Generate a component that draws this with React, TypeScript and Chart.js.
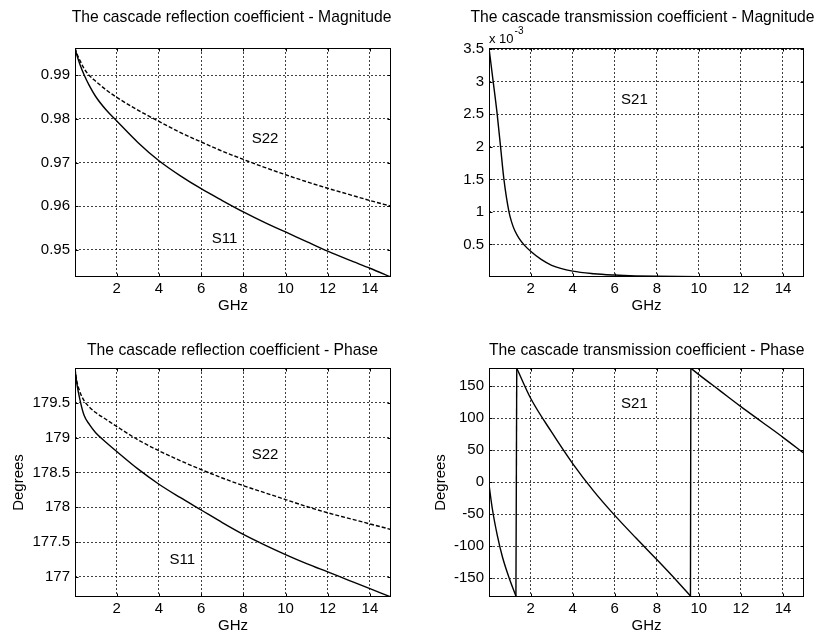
import React, { useEffect, useRef } from "react";
import { Chart, registerables } from "chart.js";

Chart.register(...registerables);

const FONT = '"Liberation Sans", Arial, Helvetica, sans-serif';

// ---------- data ----------
const reflFreq = [0.02, 0.1, 0.25, 0.45, 0.7, 1.0, 1.5, 2, 3, 4, 5, 6, 7, 8, 9, 10, 11, 12, 13, 14, 15];
const s11Mag = [0.9962, 0.9947, 0.9925, 0.9901, 0.9876, 0.9851, 0.982, 0.9795, 0.9746, 0.9704, 0.967, 0.964, 0.9613, 0.9587, 0.9563, 0.9541, 0.9519, 0.9497, 0.9477, 0.9458, 0.9438];
const s22Mag = [0.9962, 0.995, 0.9934, 0.9915, 0.9899, 0.9886, 0.9866, 0.9849, 0.982, 0.9794, 0.9769, 0.9747, 0.9726, 0.9707, 0.9689, 0.9672, 0.9656, 0.9641, 0.9627, 0.9613, 0.96];
const s11Phase = [179.99, 179.79, 179.55, 179.32, 179.19, 179.07, 178.93, 178.8, 178.55, 178.33, 178.14, 177.96, 177.78, 177.61, 177.46, 177.32, 177.19, 177.07, 176.95, 176.83, 176.71];
const s22Phase = [179.99, 179.82, 179.66, 179.53, 179.44, 179.36, 179.26, 179.16, 178.97, 178.81, 178.67, 178.54, 178.42, 178.31, 178.21, 178.11, 178.01, 177.92, 177.84, 177.76, 177.68];

const s21MagFreq = [0.02, 0.22, 0.41, 0.57, 0.73, 0.97, 1.1, 1.25, 1.45, 1.7, 2, 2.5, 3, 4, 5, 6, 7, 8, 10, 12, 15];
const s21Mag = [3.52e-3, 3.0e-3, 2.5e-3, 2.0e-3, 1.5e-3, 1.0e-3, 0.84e-3, 0.71e-3, 0.595e-3, 0.49e-3, 0.395e-3, 0.27e-3, 0.18e-3, 0.09e-3, 0.05e-3, 0.03e-3, 0.018e-3, 0.011e-3, 0.005e-3, 0.003e-3, 0.001e-3];

const s21PhaseFreq = [0.02, 0.18, 0.42, 0.66, 0.97, 1.3, 1.32, 1.34, 2, 3, 4, 5, 6, 7, 8, 9, 9.6, 9.62, 10, 11, 12, 13, 14, 15];
const s21Phase = [-4, -42, -84, -117, -149, -178, 0, 178, 131, 78, 29, -14, -52, -87, -121, -156, -178, 178, 168, 143, 118, 94, 70, 45];

const freqTicks = [2, 4, 6, 8, 10, 12, 14];
const reflMagTicks = [0.95, 0.96, 0.97, 0.98, 0.99];
const transMagTicks = [0.5e-3, 1e-3, 1.5e-3, 2e-3, 2.5e-3, 3e-3, 3.5e-3];
const reflPhaseTicks = [177, 177.5, 178, 178.5, 179, 179.5];
const transPhaseTicks = [-150, -100, -50, 0, 50, 100, 150];

const reflMagNotes = [
  { text: "S22", x: 8.4, y: 0.9754 },
  { text: "S11", x: 6.5, y: 0.9525 },
];
const transMagNotes = [{ text: "S21", x: 6.3, y: 2.72e-3 }];
const reflPhaseNotes = [
  { text: "S22", x: 8.4, y: 178.75 },
  { text: "S11", x: 4.5, y: 177.24 },
];
const transPhaseNotes = [{ text: "S21", x: 6.3, y: 123 }];

// ---------- panels ----------
type Series = { x: number[]; y: number[]; dashed?: boolean };
type PanelCfg = {
  left: number; top: number; w: number; h: number;
  area: { left: number; top: number; right: number; bottom: number };
  title: string; titleX: number; titleBase: number;
  yMin: number; yMax: number; yTicks: number[]; yFmt: (v: number) => string;
  yLabel?: string; yLabelPad?: number; xLabelPad: number;
  series: Series[]; notes: { text: string; x: number; y: number }[];
  multiplier?: boolean;
};

const panels: PanelCfg[] = [
  {
    left: 0, top: 0, w: 411, h: 318,
    area: { left: 75, top: 48, right: 391, bottom: 277 },
    title: "The cascade reflection coefficient - Magnitude", titleX: 231.5, titleBase: 21.5,
    yMin: 0.9438, yMax: 0.9962, yTicks: reflMagTicks, yFmt: (v) => String(v),
    xLabelPad: 3,
    series: [{ x: reflFreq, y: s11Mag }, { x: reflFreq, y: s22Mag, dashed: true }],
    notes: reflMagNotes,
  },
  {
    left: 411, top: 0, w: 412, h: 318,
    area: { left: 78, top: 48, right: 393, bottom: 277 },
    title: "The cascade transmission coefficient - Magnitude", titleX: 231.5, titleBase: 21.5,
    yMin: 0, yMax: 3.52e-3, yTicks: transMagTicks, yFmt: (v) => String(Math.round(v * 1e4) / 10),
    xLabelPad: 3,
    series: [{ x: s21MagFreq, y: s21Mag }],
    notes: transMagNotes,
    multiplier: true,
  },
  {
    left: 0, top: 318, w: 411, h: 319,
    area: { left: 75, top: 50, right: 391, bottom: 279 },
    title: "The cascade reflection coefficient - Phase", titleX: 232.5, titleBase: 37,
    yMin: 176.71, yMax: 180.0, yTicks: reflPhaseTicks, yFmt: (v) => String(v),
    yLabel: "Degrees", yLabelPad: 10, xLabelPad: 2,
    series: [{ x: reflFreq, y: s11Phase }, { x: reflFreq, y: s22Phase, dashed: true }],
    notes: reflPhaseNotes,
  },
  {
    left: 411, top: 318, w: 412, h: 319,
    area: { left: 78, top: 50, right: 393, bottom: 279 },
    title: "The cascade transmission coefficient - Phase", titleX: 235.7, titleBase: 37,
    yMin: -179.5, yMax: 178.3, yTicks: transPhaseTicks, yFmt: (v) => String(v),
    yLabel: "Degrees", yLabelPad: 21, xLabelPad: 2,
    series: [{ x: s21PhaseFreq, y: s21Phase }],
    notes: transPhaseNotes,
  },
];

// split a series at phase wraps so smooth runs and straight jumps are drawn separately
function buildDatasets(s: Series) {
  const runs: { x: number; y: number }[][] = [];
  let cur: { x: number; y: number }[] = [{ x: s.x[0], y: s.y[0] }];
  for (let i = 1; i < s.x.length; i++) {
    const p = { x: s.x[i], y: s.y[i] };
    if (Math.abs(s.y[i] - s.y[i - 1]) > 150) {
      if (cur.length) runs.push(cur);
      runs.push([{ x: s.x[i - 1], y: s.y[i - 1] }, p]);
      cur = [p];
    } else {
      cur.push(p);
    }
  }
  if (cur.length > 1) runs.push(cur);
  return runs
    .filter((r) => r.length > 1)
    .map((r) => ({
      data: r,
      borderColor: "#000",
      borderWidth: 1.4,
      borderDash: s.dashed ? [4, 2] : [],
      pointRadius: 0,
      fill: false,
      cubicInterpolationMode: "monotone" as const,
    }));
}

function Panel({ cfg }: { cfg: PanelCfg }) {
  const ref = useRef<HTMLCanvasElement | null>(null);
  useEffect(() => {
    if (!ref.current) return;
    const a = cfg.area;
    const framePlugin = {
      id: "frame",
      afterDatasetsDraw(chart: any) {
        const { ctx, chartArea: ca, scales } = chart;
        ctx.save();
        ctx.setLineDash([]);
        ctx.strokeStyle = "#000";
        ctx.lineWidth = 1;
        const L = Math.round(ca.left) + 0.5;
        const T = Math.round(ca.top) + 0.5;
        const R = Math.round(ca.right) - 0.5;
        const B = Math.round(ca.bottom) - 0.5;
        const tl = 3;
        ctx.beginPath();
        freqTicks.forEach((v) => {
          const px = Math.round(scales.x.getPixelForValue(v)) + 0.5;
          ctx.moveTo(px, B); ctx.lineTo(px, B - tl);
          ctx.moveTo(px, T); ctx.lineTo(px, T + tl);
        });
        cfg.yTicks.forEach((v) => {
          const py = Math.round(scales.y.getPixelForValue(v)) + 0.5;
          ctx.moveTo(L, py); ctx.lineTo(L + tl, py);
          ctx.moveTo(R, py); ctx.lineTo(R - tl, py);
        });
        ctx.stroke();
        ctx.strokeRect(L, T, R - L, B - T);
        ctx.fillStyle = "#000";
        ctx.font = `15px ${FONT}`;
        ctx.textAlign = "left";
        ctx.textBaseline = "middle";
        cfg.notes.forEach((n) => {
          ctx.fillText(n.text, scales.x.getPixelForValue(n.x), scales.y.getPixelForValue(n.y));
        });
        ctx.font = `15.7px ${FONT}`;
        ctx.textAlign = "center";
        ctx.textBaseline = "alphabetic";
        ctx.fillText(cfg.title, cfg.titleX, cfg.titleBase);
        if (cfg.multiplier) {
          ctx.textAlign = "left";
          ctx.font = `13px ${FONT}`;
          const base = "x 10";
          ctx.fillText(base, ca.left, 43);
          const w = ctx.measureText(base).width;
          ctx.font = `10px ${FONT}`;
          ctx.fillText("-3", ca.left + w + 1, 34);
        }
        ctx.restore();
      },
    };
    const tickFont = { size: 15, family: FONT };
    const chart = new Chart(ref.current, {
      type: "line",
      data: { datasets: cfg.series.flatMap((s) => buildDatasets(s)) },
      options: {
        animation: false,
        responsive: false,
        devicePixelRatio: 1,
        events: [],
        layout: { padding: { left: 0, top: a.top, right: cfg.w - a.right, bottom: 0 } },
        plugins: { legend: { display: false }, tooltip: { enabled: false }, title: { display: false } },
        scales: {
          x: {
            type: "linear",
            min: 0.02,
            max: 15,
            afterBuildTicks: (ax: any) => { ax.ticks = freqTicks.map((v) => ({ value: v })); },
            afterFit: (s: any) => { s.height = cfg.h - a.bottom; },
            grid: { color: "rgba(0,0,0,0.75)", drawTicks: false, lineWidth: 1 },
            border: { display: false, dash: [2, 2] },
            ticks: { padding: 3, color: "#000", font: tickFont, maxRotation: 0, autoSkip: false, callback: (v: any) => String(v) },
            title: { display: true, text: "GHz", color: "#000", font: tickFont, padding: { top: 0, bottom: cfg.xLabelPad } },
          },
          y: {
            type: "linear",
            min: cfg.yMin,
            max: cfg.yMax,
            afterBuildTicks: (ax: any) => { ax.ticks = cfg.yTicks.map((v) => ({ value: v })); },
            afterFit: (s: any) => { s.width = a.left; },
            grid: { color: "rgba(0,0,0,0.75)", drawTicks: false, lineWidth: 1 },
            border: { display: false, dash: [2, 2] },
            ticks: { padding: 5, color: "#000", font: tickFont, autoSkip: false, callback: (v: any) => cfg.yFmt(Number(v)) },
            title: cfg.yLabel
              ? { display: true, text: cfg.yLabel, color: "#000", font: tickFont, padding: { top: cfg.yLabelPad, bottom: 0 } }
              : { display: false },
          },
        },
      } as any,
      plugins: [framePlugin],
    });
    return () => chart.destroy();
  }, [cfg]);
  return (
    <canvas
      ref={ref}
      width={cfg.w}
      height={cfg.h}
      style={{ position: "absolute", left: cfg.left, top: cfg.top, width: cfg.w, height: cfg.h }}
    />
  );
}

export default function App() {
  return (
    <div style={{ position: "absolute", left: 0, top: 0, width: 823, height: 637, background: "#fff", overflow: "hidden" }}>
      {panels.map((p, i) => (
        <Panel key={i} cfg={p} />
      ))}
    </div>
  );
}
